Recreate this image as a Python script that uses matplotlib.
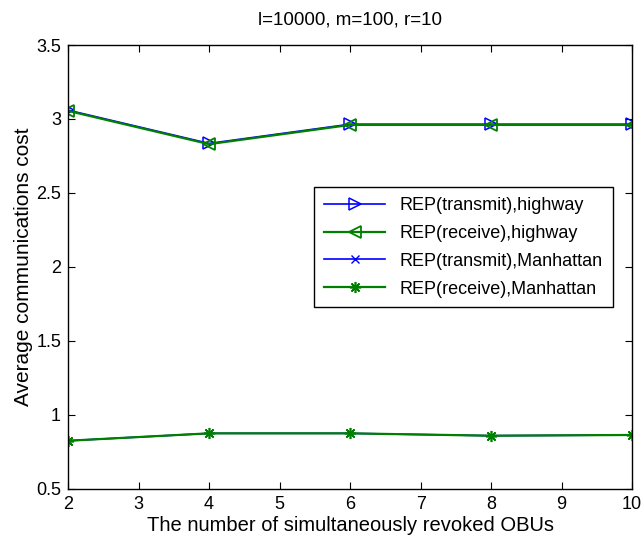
import numpy as np
import matplotlib.pyplot as plt

plt.rcParams['font.family'] = ['Liberation Sans', 'DejaVu Sans']

obus = [2, 4, 6, 8, 10]
tx_highway = [3.06, 2.835, 2.965, 2.965, 2.965]
rx_highway = [3.055, 2.83, 2.96, 2.96, 2.96]
tx_manhattan = [0.826, 0.876, 0.876, 0.86, 0.865]
rx_manhattan = [0.826, 0.876, 0.876, 0.86, 0.865]

fig = plt.figure(figsize=(6.44, 5.37), dpi=100)
ax = fig.add_axes([0.1056, 0.0894, 0.876, 0.8268])

ax.plot(obus, tx_highway, color='#0000ff', lw=1.2, marker='>', ms=8,
        mfc='none', mew=1.1, label='REP(transmit),highway')
ax.plot(obus, rx_highway, color='#008000', lw=1.6, marker='<', ms=8,
        mfc='none', mew=1.3, label='REP(receive),highway')
ax.plot(obus, tx_manhattan, color='#0000ff', lw=1.2, marker='x', ms=6,
        label='REP(transmit),Manhattan')
ax.plot(obus, rx_manhattan, color='#008000', lw=1.6, marker=(8, 2, 0), ms=8,
        mew=1.2, label='REP(receive),Manhattan')

ax.set_xlim(2, 10)
ax.set_ylim(0.5, 3.5)
ax.set_xticks(np.arange(2, 11, 1))
ax.set_yticks([0.5, 1, 1.5, 2, 2.5, 3, 3.5])
ax.set_yticklabels(['0.5', '1', '1.5', '2', '2.5', '3', '3.5'])
ax.tick_params(direction='in', top=True, right=True, labelsize=13, length=5, pad=5)
for s in ax.spines.values():
    s.set_linewidth(1.0)

ax.set_title('l=10000, m=100, r=10', fontsize=13.5, pad=15)
ax.set_xlabel('The number of simultaneously revoked OBUs', fontsize=14.5, labelpad=2)
ax.set_ylabel('Average communications cost', fontsize=15, labelpad=2)

leg = ax.legend(loc='upper left', bbox_to_anchor=(0.436, 0.68), fontsize=13,
                fancybox=False, edgecolor='black', framealpha=1,
                handlelength=3.4, borderpad=0.55, labelspacing=0.6,
                borderaxespad=0)
leg.get_frame().set_linewidth(1.0)

plt.savefig('out.png', dpi=100)
